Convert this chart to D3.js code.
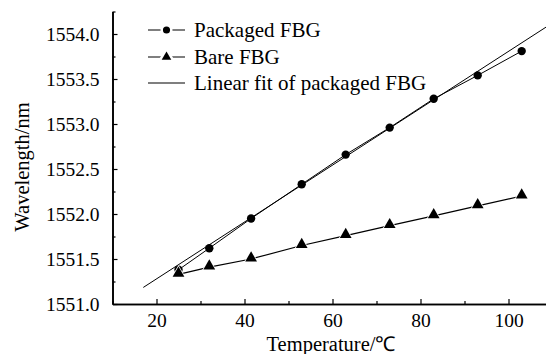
<!DOCTYPE html>
<html lang="en">
<head>
    <meta charset="UTF-8">
    <title>FBG wavelength vs temperature</title>
    <script src="https://cdn.jsdelivr.net/npm/d3@7"></script>
    <style>
        body { margin: 0; background: #fff; }
        text { font-family: "Liberation Serif", "Times New Roman", serif; fill: #000; }
    </style>
</head>
<body>
<svg></svg>
<script>
    var width = 546;
    var height = 354;

    // data
    var temps = [25, 32, 41.5, 53, 63, 73, 83, 93, 103];
    var packaged = [1551.38, 1551.62, 1551.95, 1552.33, 1552.66, 1552.96, 1553.28, 1553.54, 1553.81];
    var bare = [1551.33, 1551.41, 1551.50, 1551.65, 1551.76, 1551.87, 1551.98, 1552.09, 1552.20];
    var fitSlope = 0.0316;      // nm per degree
    var fitIntercept = 1550.647;
    var fitRange = [17, 110];
    var xTicks = [20, 40, 60, 80, 100];
    var yTicks = [1551.0, 1551.5, 1552.0, 1552.5, 1553.0, 1553.5, 1554.0];
    var legendLabels = ['Packaged FBG', 'Bare FBG', 'Linear fit of packaged FBG'];

    var serif = '"Liberation Serif", "Times New Roman", serif';

    var svg = d3.select('svg')
                .attr('width', width)
                .attr('height', height);

    var x = d3.scaleLinear().domain([10, 110]).range([112.5, 552.5]);
    var y = d3.scaleLinear().domain([1551, 1554.25]).range([304, 11.5]);

    // axes, ticks pointing inward
    var xAxis = d3.axisBottom(x).tickValues(xTicks).tickFormat(d3.format('d'))
                  .tickSizeInner(-5).tickSizeOuter(0).tickPadding(9);
    var xMinor = d3.axisBottom(x).tickValues(d3.range(10, 111, 10).filter(function(d){ return d % 20 !== 0; }))
                   .tickFormat('').tickSizeInner(-3).tickSizeOuter(0);
    var yAxis = d3.axisLeft(y).tickValues(yTicks).tickFormat(d3.format('.1f'))
                  .tickSizeInner(-5).tickSizeOuter(0).tickPadding(13);
    var yMinor = d3.axisLeft(y).tickValues(d3.range(1551.25, 1554.3, 0.5))
                   .tickFormat('').tickSizeInner(-3).tickSizeOuter(0);

    function styleAxis(g) {
        g.attr('font-family', serif);
        g.select('.domain').attr('stroke', '#000').attr('stroke-width', 1.6);
        g.selectAll('.tick line').attr('stroke', '#000').attr('stroke-width', 1.2);
        g.selectAll('.tick text').style('font-size', '19.5px').attr('fill', '#000')
         .style('font-family', serif);
    }

    svg.append('g').attr('transform', 'translate(0,' + y.range()[0] + ')').call(xMinor).call(styleAxis);
    svg.append('g').attr('transform', 'translate(0,' + y.range()[0] + ')').call(xAxis).call(styleAxis);
    svg.append('g').attr('transform', 'translate(' + x.range()[0] + ',0)').call(yMinor).call(styleAxis);
    svg.append('g').attr('transform', 'translate(' + x.range()[0] + ',0)').call(yAxis).call(styleAxis);

    // axis titles
    svg.append('text')
       .attr('x', 331).attr('y', 351)
       .attr('text-anchor', 'middle')
       .style('font-size', '20.5px')
       .text('Temperature/℃');
    svg.append('text')
       .attr('transform', 'translate(29,167) rotate(-90)')
       .attr('text-anchor', 'middle')
       .style('font-size', '20.5px')
       .text('Wavelength/nm');

    var plot = svg.append('g');

    // linear fit of packaged FBG
    var fitLine = d3.line()
                    .x(function(d){ return x(d); })
                    .y(function(d){ return y(fitIntercept + fitSlope * d); });
    plot.append('path')
        .attr('d', fitLine(fitRange))
        .attr('fill', 'none')
        .attr('stroke', '#000')
        .attr('stroke-width', 1);

    var line = d3.line()
                 .x(function(d){ return x(d[0]); })
                 .y(function(d){ return y(d[1]); });

    var packagedPts = d3.zip(temps, packaged);
    var barePts = d3.zip(temps, bare);

    plot.append('path')
        .attr('d', line(packagedPts))
        .attr('fill', 'none').attr('stroke', '#000').attr('stroke-width', 1);
    plot.append('path')
        .attr('d', line(barePts))
        .attr('fill', 'none').attr('stroke', '#000').attr('stroke-width', 1.2);

    var circleSym = d3.symbol().type(d3.symbolCircle).size(55);
    var triSym = d3.symbol().type(d3.symbolTriangle).size(60);

    plot.selectAll('.pk')
        .data(packagedPts)
        .enter()
        .append('path')
        .attr('class', 'pk')
        .attr('d', circleSym)
        .attr('transform', function(d){ return 'translate(' + x(d[0]) + ',' + y(d[1]) + ')'; })
        .attr('fill', '#000');

    plot.selectAll('.br')
        .data(barePts)
        .enter()
        .append('path')
        .attr('class', 'br')
        .attr('d', triSym)
        .attr('transform', function(d){ return 'translate(' + x(d[0]) + ',' + (y(d[1]) - 1) + ')'; })
        .attr('fill', '#000')
        .attr('stroke', '#fff')
        .attr('stroke-width', 1.5)
        .attr('paint-order', 'stroke');

    // legend
    var legendY = [30, 57, 83];
    var legend = svg.append('g');
    legendLabels.forEach(function(label, i){
        var g = legend.append('g').attr('transform', 'translate(148,' + legendY[i] + ')');
        g.append('line')
         .attr('x1', 0).attr('x2', 37)
         .attr('stroke', '#000')
         .attr('stroke-width', 1.2);
        if (i < 2) {
            g.append('path')
             .attr('d', i === 0 ? d3.symbol().type(d3.symbolCircle).size(40)() : d3.symbol().type(d3.symbolTriangle).size(40)())
             .attr('transform', 'translate(18.5,0)')
             .attr('fill', '#000')
             .attr('stroke', '#fff')
             .attr('stroke-width', 5)
             .attr('paint-order', 'stroke');
        }
        g.append('text')
         .attr('x', 46).attr('dy', '0.35em')
         .style('font-size', '21px')
         .text(label);
    });
</script>
</body>
</html>
